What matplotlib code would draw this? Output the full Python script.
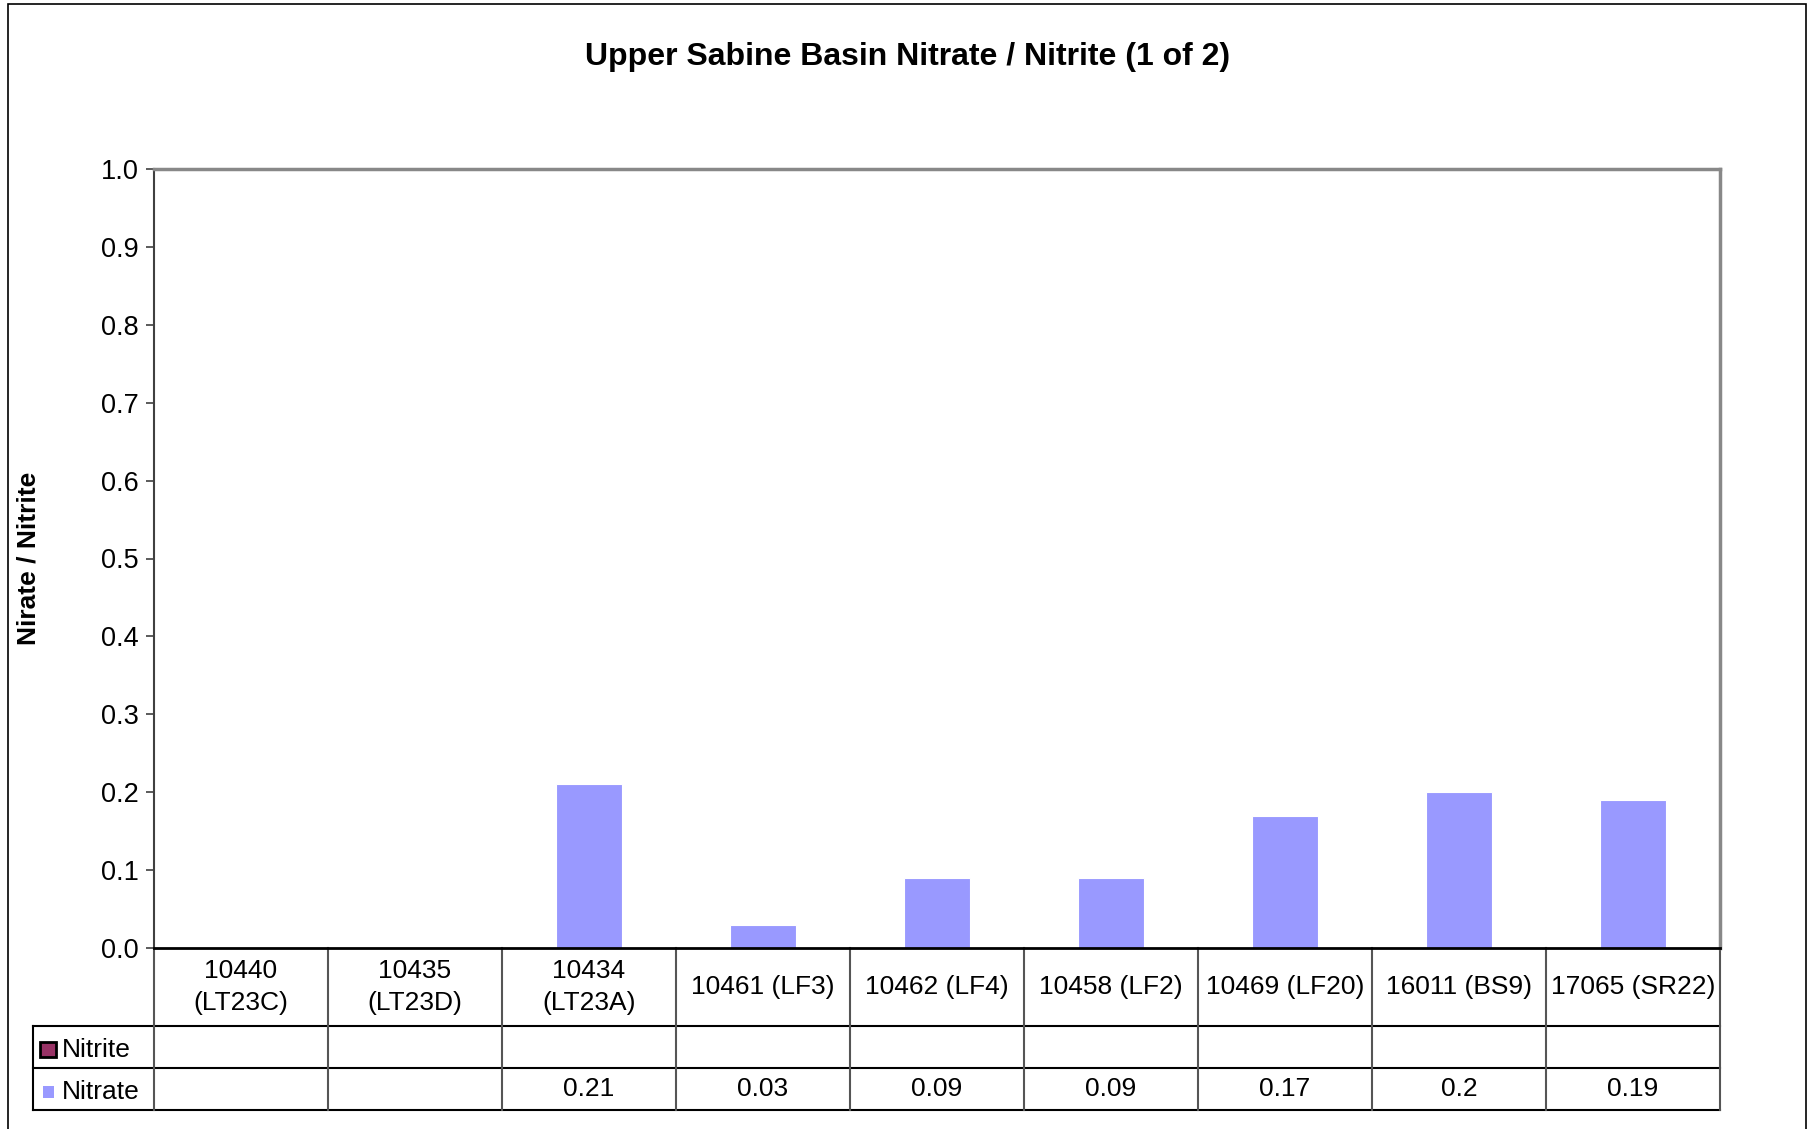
import matplotlib.pyplot as plt
import matplotlib.transforms as mtransforms
from matplotlib.patches import Rectangle
import numpy as np

plt.rcParams['font.family'] = ['Liberation Sans', 'DejaVu Sans']

# data
stations = ["10440\n(LT23C)", "10435\n(LT23D)", "10434\n(LT23A)", "10461 (LF3)",
            "10462 (LF4)", "10458 (LF2)", "10469 (LF20)", "16011 (BS9)", "17065 (SR22)"]
nitrate = [np.nan, np.nan, 0.21, 0.03, 0.09, 0.09, 0.17, 0.2, 0.19]
nitrite = [np.nan] * 9
nitrate_labels = ["", "", "0.21", "0.03", "0.09", "0.09", "0.17", "0.2", "0.19"]
nitrite_labels = [""] * 9
yticks = [0.0, 0.1, 0.2, 0.3, 0.4, 0.5, 0.6, 0.7, 0.8, 0.9, 1.0]

W, H = 1815, 1129
c_nitrate = '#9999FF'
c_nitrite = '#993366'
fs = 19

fig = plt.figure(figsize=(W / 100, H / 100), dpi=100)

def fx(px):
    return px / W

def fy(py):
    return 1 - py / H

# outer frame
fig.patches.append(Rectangle((fx(8), fy(1135)), fx(1806) - fx(8), fy(4) - fy(1135),
                             transform=fig.transFigure, fill=False, ec='black', lw=1.2))

ax = fig.add_axes([fx(154), fy(948), fx(1720) - fx(154), fy(169) - fy(948)])
n = len(stations)
x = np.arange(n)
ax.bar(x, nitrite, width=0.38, color=c_nitrite)
ax.bar(x, nitrate, width=0.38, color=c_nitrate, edgecolor='white', lw=0.8)
ax.set_xlim(-0.5, n - 0.5)
ax.set_ylim(0, 1.0)
ax.set_yticks(yticks)
ax.set_yticklabels(["%.1f" % v for v in yticks])
ax.set_xticks([])
ax.tick_params(axis='y', direction='out', length=6, width=1.2, color='#404040',
               labelsize=19.5, pad=5)
for s in ['top', 'right']:
    ax.spines[s].set_color('#888888')
    ax.spines[s].set_linewidth(2.5)
ax.spines['left'].set_color('#404040')
ax.spines['left'].set_linewidth(1.5)
ax.spines['bottom'].set_color('black')
ax.spines['bottom'].set_linewidth(2)

fig.text(fx(29), fy(558), "Nirate / Nitrite", rotation=90, ha='center', va='center',
         fontsize=19, fontweight='bold')
fig.text(0.5, fy(57), "Upper Sabine Basin Nitrate / Nitrite (1 of 2)",
         ha='center', va='center', fontsize=23, fontweight='bold')

# data table below the axis
tr = mtransforms.blended_transform_factory(ax.transData, fig.transFigure)
y_top, y_r1, y_r2, y_bot = fy(948), fy(1026), fy(1068), fy(1110)
left_col = -0.5 - (154 - 33) / ((1720 - 154) / n)
right = n - 0.5
nudge = 3 / H

for yy in [y_r1, y_r2, y_bot]:
    ax.plot([left_col, right], [yy, yy], transform=tr, color='black', lw=1.5,
            clip_on=False)
for i in range(n + 1):
    ax.plot([i - 0.5, i - 0.5], [y_top, y_bot], transform=tr, color='#555555',
            lw=1.5, clip_on=False)
ax.plot([left_col, left_col], [y_r1, y_bot], transform=tr, color='black', lw=1.5,
        clip_on=False)

for i in range(n):
    ax.text(i, (y_top + y_r1) / 2, stations[i], transform=tr, ha='center',
            va='center', fontsize=fs, linespacing=1.4)
    ax.text(i, (y_r1 + y_r2) / 2, nitrite_labels[i], transform=tr, ha='center',
            va='center', fontsize=fs)
    ax.text(i, (y_r2 + y_bot) / 2, nitrate_labels[i], transform=tr, ha='center',
            va='center', fontsize=fs)

# legend keys in the first column
fig.patches.append(Rectangle((fx(40), fy(1057)), fx(56) - fx(40), fy(1042) - fy(1057),
                             transform=fig.transFigure, fc=c_nitrite, ec='black', lw=2))
fig.patches.append(Rectangle((fx(43), fy(1098)), fx(54) - fx(43), fy(1086) - fy(1098),
                             transform=fig.transFigure, fc=c_nitrate, ec='none'))
fig.text(fx(62), (y_r1 + y_r2) / 2 - nudge, "Nitrite", ha='left', va='center', fontsize=fs)
fig.text(fx(62), (y_r2 + y_bot) / 2 - nudge, "Nitrate", ha='left', va='center', fontsize=fs)

fig.savefig("out.png", dpi=100, facecolor='white')
